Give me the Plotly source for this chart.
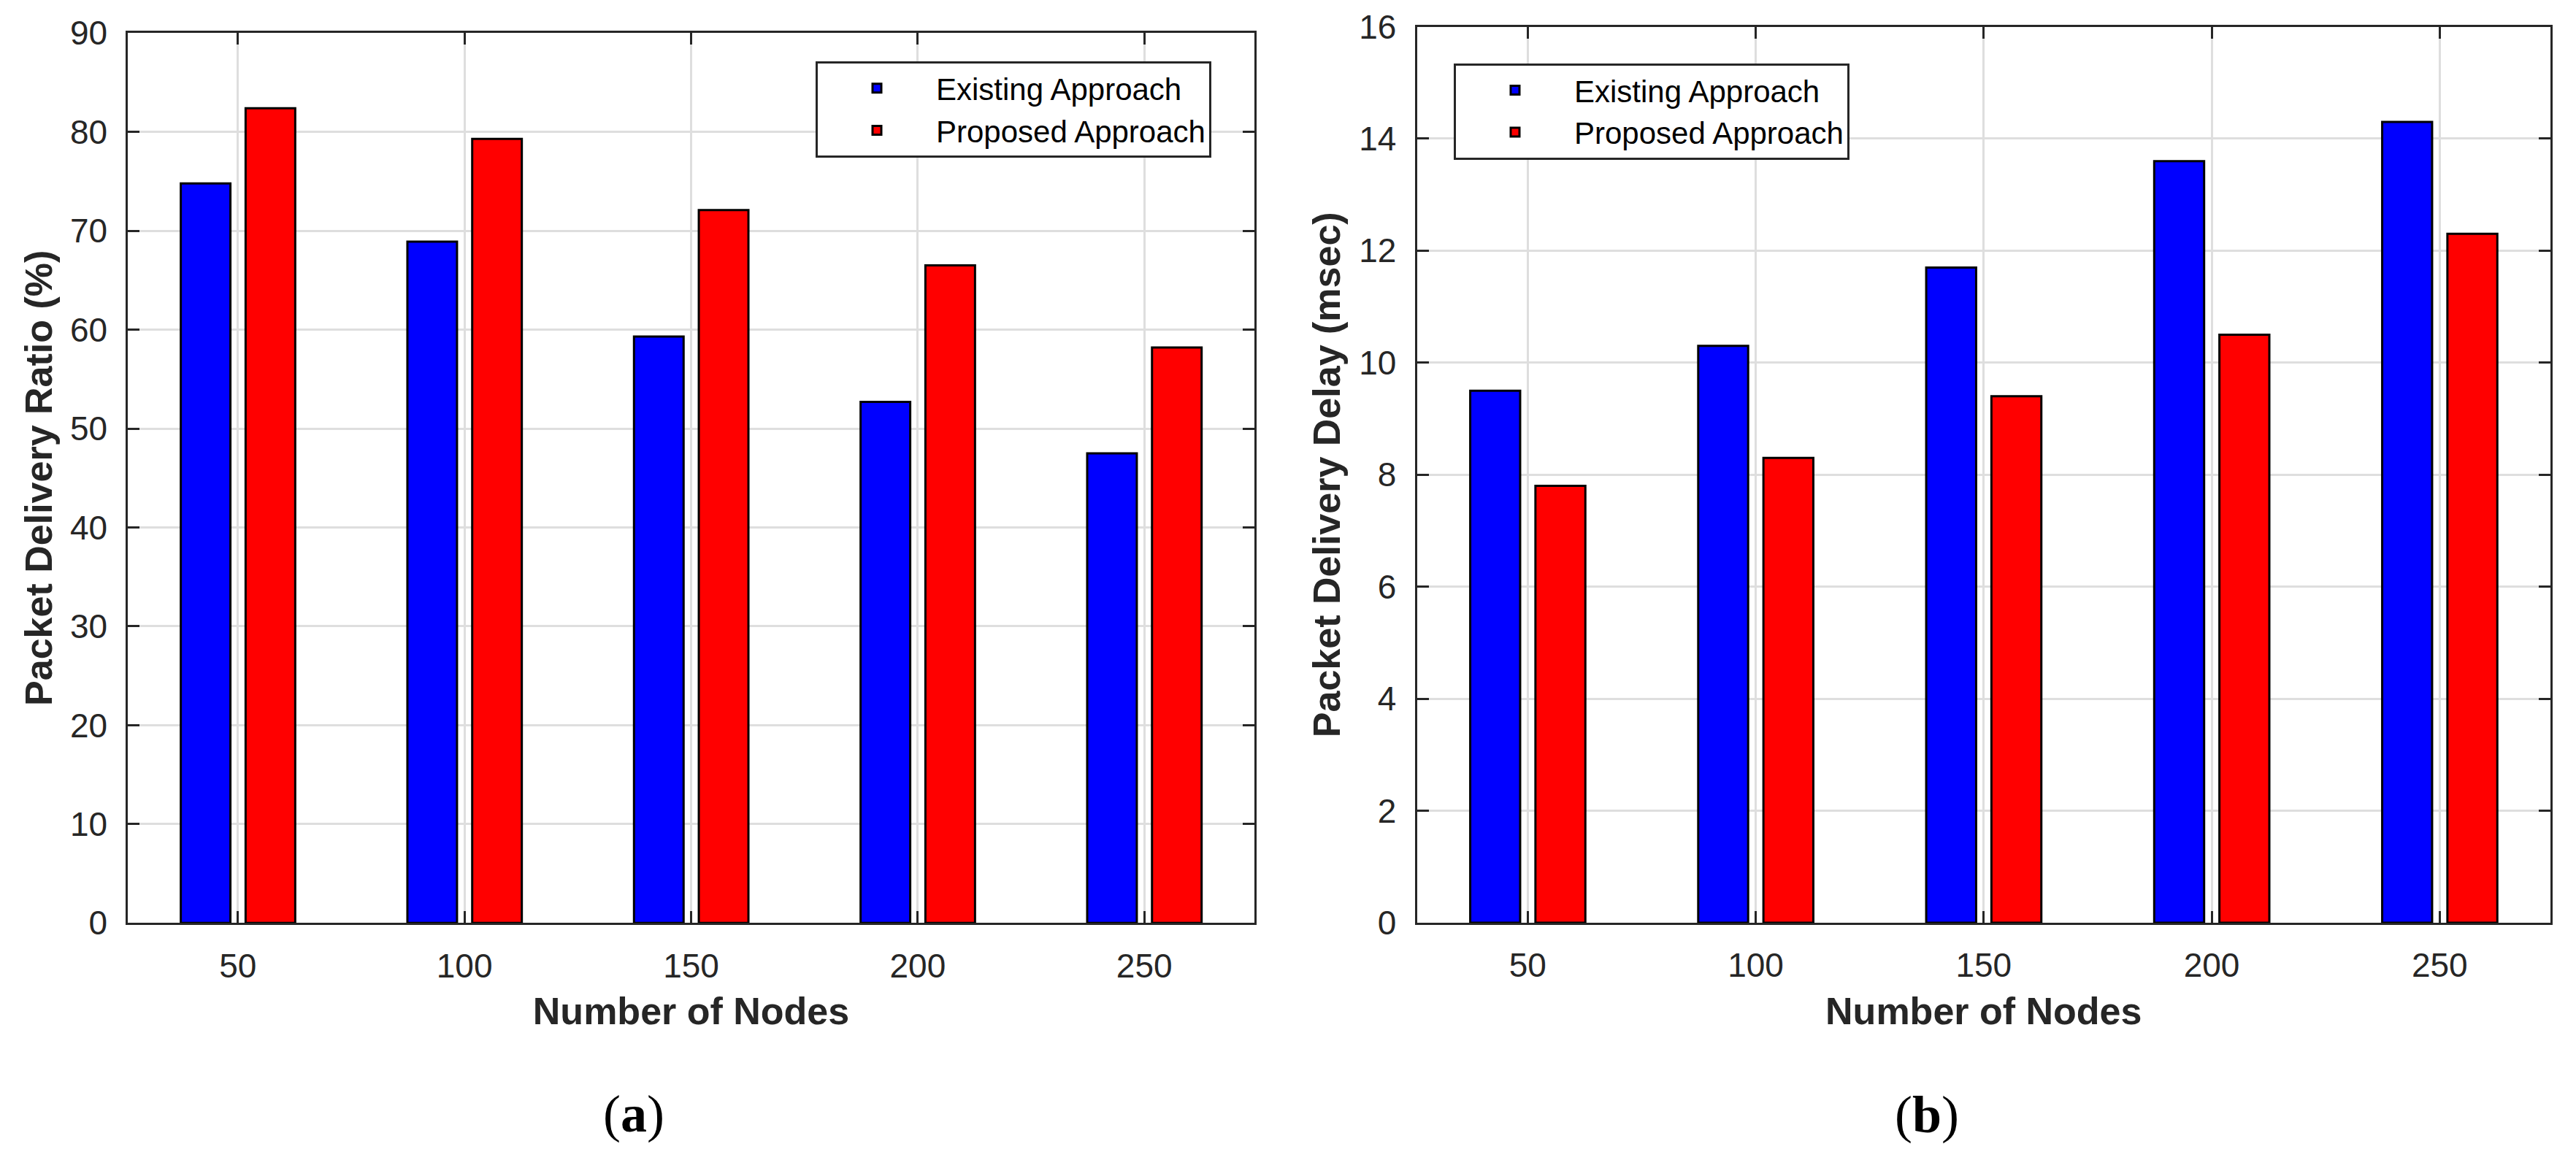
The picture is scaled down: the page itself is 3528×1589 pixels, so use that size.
import plotly.graph_objects as go

nodes = [50, 100, 150, 200, 250]
pdr_existing = [74.8, 68.9, 59.3, 52.7, 47.5]
pdr_proposed = [82.4, 79.3, 72.1, 66.5, 58.2]
delay_existing = [9.5, 10.3, 11.7, 13.6, 14.3]
delay_proposed = [7.8, 8.3, 9.4, 10.5, 12.3]
series_names = ["Existing Approach", "Proposed Approach"]
x_ticks = [50, 100, 150, 200, 250]
pdr_ticks = list(range(0, 91, 10))
delay_ticks = list(range(0, 17, 2))

# page is 3528x1589; the browser's default 8px body margin is compensated
PAGE_W, PAGE_H, BODY = 3528, 1589, 8
W, H = PAGE_W - 2 * BODY, PAGE_H - 2 * BODY

def px(x):
    return (x - BODY) / W

def py(y):
    return 1 - (y - BODY) / H

BLUE, RED = "#0000ff", "#ff0000"
AX = "#262626"
GRID = "#dedede"
FONT = "Liberation Sans, Arial, Helvetica, sans-serif"

fig = go.Figure()

bar_w = 10.95
off_e = -12.6
off_p = 1.7

def add_bars(y_e, y_p, xa, ya, leg):
    fig.add_trace(go.Bar(x=nodes, y=y_e, name=series_names[0], xaxis=xa, yaxis=ya,
                         legend=leg, width=bar_w, offset=off_e,
                         marker=dict(color=BLUE, line=dict(color="black", width=3))))
    fig.add_trace(go.Bar(x=nodes, y=y_p, name=series_names[1], xaxis=xa, yaxis=ya,
                         legend=leg, width=bar_w, offset=off_p,
                         marker=dict(color=RED, line=dict(color="black", width=3))))

add_bars(pdr_existing, pdr_proposed, "x", "y", "legend")
add_bars(delay_existing, delay_proposed, "x2", "y2", "legend2")

common_axis = dict(
    showline=True, linecolor=AX, linewidth=3, mirror="ticks",
    ticks="inside", ticklen=16, tickwidth=3, tickcolor=AX,
    showgrid=True, gridcolor=GRID, gridwidth=3, zeroline=False,
    automargin=False,
    tickfont=dict(family=FONT, size=46, color=AX),
)

xt = dict(text="<b>Number of Nodes</b>", font=dict(family=FONT, size=52, color=AX), standoff=20)

legend_common = dict(xanchor="left", yanchor="top",
                     bgcolor="white", bordercolor=AX, borderwidth=3,
                     font=dict(family=FONT, size=42, color="black"), itemwidth=152,
                     traceorder="normal", tracegroupgap=0)

fig.update_layout(
    width=W, height=H,
    margin=dict(l=0, r=0, t=0, b=0, pad=0),
    paper_bgcolor="white", plot_bgcolor="white",
    barmode="overlay",
    xaxis=dict(domain=[px(175.3), px(1717.7)], anchor="y", range=[25.75, 274.25],
               tickmode="array", tickvals=x_ticks, ticklabelstandoff=16, title=xt, **common_axis),
    yaxis=dict(domain=[py(1264.3), py(45.3)], anchor="x", range=[0, 90],
               tickmode="array", tickvals=pdr_ticks, ticklabelstandoff=16,
               title=dict(text="<b>Packet Delivery Ratio (%)</b>",
                          font=dict(family=FONT, size=52, color=AX), standoff=8),
               **common_axis),
    xaxis2=dict(domain=[px(1940.5), px(3493)], anchor="y2", range=[25.7, 274.3],
                tickmode="array", tickvals=x_ticks, ticklabelstandoff=16, title=xt, **common_axis),
    yaxis2=dict(domain=[py(1264), py(36.5)], anchor="x2", range=[0, 16],
                tickmode="array", tickvals=delay_ticks, ticklabelstandoff=16,
                title=dict(text="<b>Packet Delivery Delay (msec)</b>",
                           font=dict(family=FONT, size=52, color=AX), standoff=9),
                **common_axis),
    legend=dict(x=px(1117), y=py(84), **legend_common),
    legend2=dict(x=px(1991), y=py(86.7), **legend_common),
    showlegend=True,
)

cap_font = dict(family="Liberation Serif, Times New Roman, serif", size=72, color="black")
fig.add_annotation(text="(<b>a</b>)", x=px(867.5), y=py(1526), xref="paper", yref="paper",
                   showarrow=False, font=cap_font, xanchor="center", yanchor="middle")
fig.add_annotation(text="(<b>b</b>)", x=px(2639), y=py(1527), xref="paper", yref="paper",
                   showarrow=False, font=cap_font, xanchor="center", yanchor="middle")

fig.write_html("out.html")
